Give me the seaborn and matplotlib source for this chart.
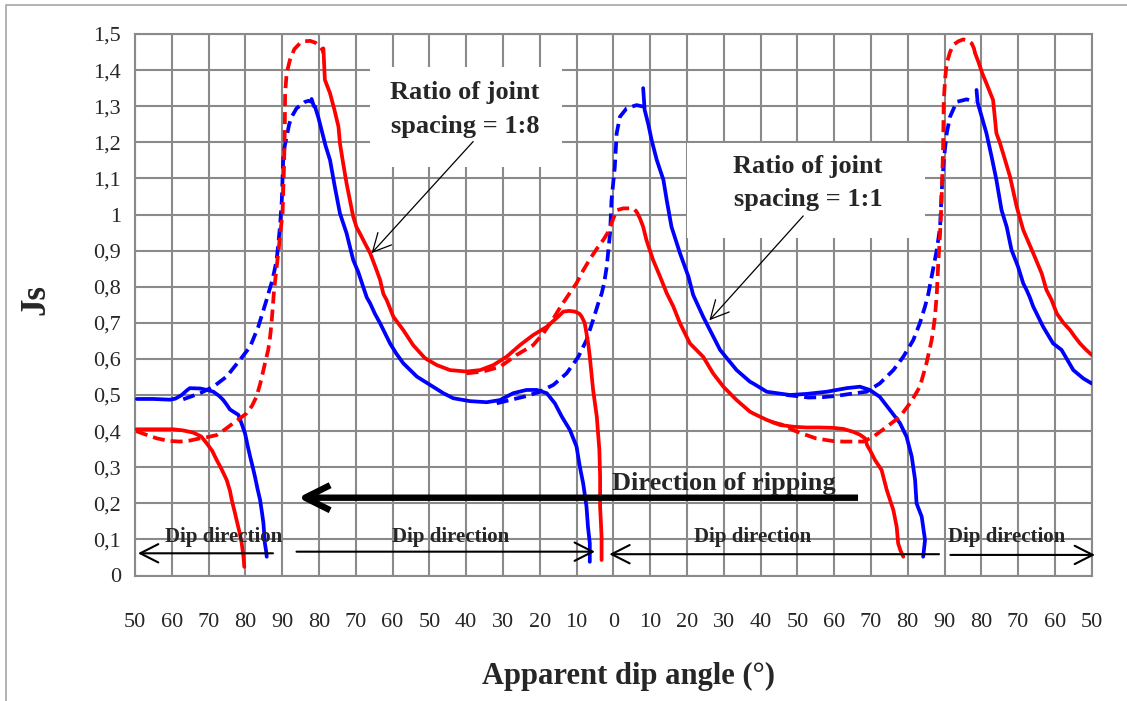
import numpy as np
import pandas as pd
import matplotlib
matplotlib.use("Agg")
import matplotlib.pyplot as plt
from matplotlib.patches import Rectangle
from matplotlib.lines import Line2D
import seaborn as sns

# ---------------------------------------------------------------------------
# Axis definition: the apparent dip angle axis is folded (50..90..0..90..50),
# so each curve is stored against its tick slot (one slot = 10 degrees).
# ---------------------------------------------------------------------------
x_tick_labels = ["50", "60", "70", "80", "90", "80", "70", "60", "50", "40",
                 "30", "20", "10", "0", "10", "20", "30", "40", "50", "60",
                 "70", "80", "90", "80", "70", "60", "50"]
y_tick_values = [0.0, 0.1, 0.2, 0.3, 0.4, 0.5, 0.6, 0.7, 0.8, 0.9,
                 1.0, 1.1, 1.2, 1.3, 1.4, 1.5]

# ---- joint spacing ratio 1:8 (red) ----------------------------------------
r18_solid_a_x = [0.03, 0.5, 1.04, 1.3, 1.58, 1.8, 1.95, 2.1, 2.22, 2.35, 2.49,
                 2.58, 2.63, 2.7, 2.76, 2.84, 2.9, 2.95, 2.97]
r18_solid_a_y = [0.405, 0.405, 0.405, 0.402, 0.396, 0.385, 0.366, 0.345, 0.32,
                 0.295, 0.265, 0.235, 0.209, 0.18, 0.154, 0.12, 0.089, 0.05, 0.024]

r18_dash_a_x = [0.03, 0.3, 0.59, 0.9, 1.22, 1.5, 1.77, 2.0, 2.22, 2.45, 2.67,
                2.85, 3.03, 3.18, 3.3, 3.4, 3.49, 3.56, 3.62, 3.67, 3.71, 3.78,
                3.84, 3.9, 3.95, 4.01, 4.03, 4.05, 4.07, 4.08, 4.12, 4.21, 4.33,
                4.48, 4.62, 4.76, 4.9, 5.03, 5.1, 5.12]
r18_dash_a_y = [0.40, 0.39, 0.38, 0.373, 0.371, 0.374, 0.38, 0.384, 0.389,
                0.405, 0.422, 0.435, 0.449, 0.47, 0.495, 0.53, 0.569, 0.6,
                0.625, 0.66, 0.699, 0.791, 0.845, 0.90, 0.95, 1.003, 1.07,
                1.132, 1.23, 1.336, 1.39, 1.428, 1.458, 1.474, 1.48, 1.481,
                1.476, 1.465, 1.455, 1.447]

r18_solid_b_x = [5.12, 5.16, 5.3, 5.42, 5.53, 5.57, 5.66, 5.75, 5.84, 5.93,
                 6.02, 6.11, 6.25, 6.39, 6.55, 6.66, 6.75, 6.84, 7.02, 7.29,
                 7.56, 7.88, 8.2, 8.56, 9.01, 9.38, 9.74, 10.1, 10.46, 10.82,
                 11.19, 11.5, 11.64, 11.8, 11.96, 12.08, 12.14, 12.22, 12.27,
                 12.32, 12.36, 12.45, 12.55, 12.62, 12.64, 12.64, 12.66, 12.68,
                 12.68]
r18_solid_b_y = [1.46, 1.373, 1.336, 1.29, 1.243, 1.197, 1.14, 1.086, 1.04,
                 0.994, 0.965, 0.948, 0.92, 0.893, 0.85, 0.819, 0.78, 0.763,
                 0.717, 0.68, 0.638, 0.602, 0.583, 0.569, 0.565, 0.569, 0.583,
                 0.606, 0.638, 0.666, 0.689, 0.717, 0.731, 0.733, 0.731, 0.725,
                 0.717, 0.7, 0.671, 0.64, 0.606, 0.514, 0.44, 0.348, 0.274,
                 0.191, 0.15, 0.107, 0.043]

r18_dash_b_x = [9.01, 9.46, 9.92, 10.37, 10.82, 11.1, 11.37, 11.6, 11.8, 12.0,
                12.18, 12.36, 12.55, 12.73, 12.85, 12.95, 13.09, 13.27, 13.54,
                13.63]
r18_dash_b_y = [0.56, 0.565, 0.578, 0.611, 0.638, 0.671, 0.712, 0.75, 0.78,
                0.81, 0.845, 0.876, 0.905, 0.93, 0.95, 0.976, 1.012, 1.017,
                1.017, 1.008]

r18_solid_c_x = [13.63, 13.72, 13.81, 13.9, 14.08, 14.27, 14.45, 14.63, 14.81,
                 15.08, 15.44, 15.71, 15.99, 16.35, 16.71, 16.8, 17.17, 17.53,
                 17.9, 18.25, 18.6, 18.97, 19.25, 19.52, 19.7, 19.84, 19.9,
                 19.97, 20.11, 20.29, 20.43, 20.61, 20.7, 20.74, 20.8, 20.88]
r18_solid_c_y = [1.008, 0.99, 0.966, 0.929, 0.874, 0.828, 0.782, 0.745, 0.699,
                 0.643, 0.606, 0.56, 0.523, 0.486, 0.454, 0.449, 0.431, 0.417,
                 0.412, 0.41, 0.41, 0.409, 0.406, 0.398, 0.39, 0.38, 0.36,
                 0.348, 0.32, 0.292, 0.237, 0.181, 0.135, 0.089, 0.07, 0.052]

r18_dash_c_x = [17.3, 17.62, 17.9, 18.25, 18.5, 18.8, 19.0, 19.25, 19.5, 19.79,
                20.06, 20.43, 20.79, 21.06, 21.2, 21.33, 21.42, 21.51, 21.58,
                21.65, 21.7, 21.74, 21.79, 21.83, 21.88, 21.92, 21.96, 21.98,
                22.02, 22.06, 22.15, 22.24, 22.38, 22.51, 22.63, 22.74, 22.8,
                22.83]
r18_dash_c_y = [0.425, 0.417, 0.402, 0.389, 0.38, 0.375, 0.372, 0.371, 0.371,
                0.371, 0.384, 0.412, 0.44, 0.477, 0.5, 0.523, 0.555, 0.588,
                0.62, 0.652, 0.685, 0.717, 0.78, 0.865, 0.948, 1.04, 1.179,
                1.317, 1.38, 1.419, 1.45, 1.47, 1.48, 1.485, 1.482, 1.474,
                1.46, 1.447]

r18_solid_d_x = [22.83, 22.92, 23.03, 23.14, 23.23, 23.32, 23.41, 23.5, 23.59,
                 23.78, 23.96, 24.14, 24.41, 24.64, 24.77, 24.91, 25.05, 25.23,
                 25.41, 25.55, 25.68, 25.85, 26.0]
r18_solid_d_y = [1.447, 1.423, 1.39, 1.363, 1.34, 1.317, 1.225, 1.2, 1.17,
                 1.105, 1.022, 0.957, 0.893, 0.837, 0.791, 0.763, 0.726, 0.7,
                 0.68, 0.66, 0.643, 0.625, 0.611]

# ---- joint spacing ratio 1:1 (blue) ----------------------------------------
r11_solid_a_x = [0.05, 0.5, 0.95, 1.1, 1.27, 1.4, 1.49, 1.77, 2.0, 2.13, 2.28,
                 2.4, 2.5, 2.58, 2.7, 2.81, 2.9, 2.99, 3.06, 3.13, 3.2, 3.26,
                 3.33, 3.4, 3.45, 3.49, 3.53, 3.56, 3.58]
r11_solid_a_y = [0.489, 0.489, 0.487, 0.49, 0.5, 0.512, 0.519, 0.518, 0.513,
                 0.509, 0.498, 0.486, 0.472, 0.46, 0.452, 0.445, 0.42, 0.394,
                 0.36, 0.329, 0.3, 0.274, 0.24, 0.209, 0.175, 0.145, 0.089,
                 0.07, 0.052]

r11_dash_a_x = [1.31, 1.5, 1.77, 2.13, 2.49, 2.85, 3.13, 3.35, 3.49, 3.58,
                3.65, 3.71, 3.78, 3.85, 3.94, 3.99, 4.03, 4.07, 4.12, 4.19,
                4.26, 4.39, 4.5, 4.62, 4.72, 4.8]
r11_dash_a_y = [0.488, 0.495, 0.505, 0.523, 0.551, 0.597, 0.634, 0.689, 0.735,
                0.765, 0.79, 0.81, 0.84, 0.874, 0.966, 1.04, 1.16, 1.19, 1.215,
                1.25, 1.271, 1.294, 1.303, 1.312, 1.315, 1.312]

r11_solid_b_x = [4.8, 4.86, 4.89, 4.98, 5.07, 5.18, 5.3, 5.43, 5.57, 5.75,
                 5.93, 6.07, 6.2, 6.3, 6.39, 6.52, 6.66, 6.93, 7.1, 7.29, 7.66,
                 8.02, 8.38, 8.65, 9.1, 9.56, 9.92, 10.28, 10.64, 10.92, 11.19,
                 11.41, 11.6, 11.82, 12.0, 12.09, 12.18, 12.27, 12.31, 12.36,
                 12.36]
r11_solid_b_y = [1.32, 1.30, 1.299, 1.27, 1.234, 1.19, 1.151, 1.077, 1.003,
                 0.948, 0.874, 0.84, 0.8, 0.77, 0.754, 0.725, 0.699, 0.643,
                 0.615, 0.588, 0.551, 0.528, 0.505, 0.491, 0.483, 0.48, 0.486,
                 0.505, 0.514, 0.514, 0.505, 0.477, 0.44, 0.403, 0.357, 0.301,
                 0.255, 0.191, 0.135, 0.089, 0.038]

r11_dash_b_x = [9.83, 10.19, 10.64, 11.0, 11.37, 11.73, 12.05, 12.27, 12.45,
                12.59, 12.68, 12.75, 12.82, 12.91, 12.95, 13.04, 13.09, 13.18,
                13.36, 13.63, 13.81]
r11_dash_b_y = [0.477, 0.486, 0.497, 0.509, 0.528, 0.56, 0.606, 0.652, 0.708,
                0.754, 0.78, 0.81, 0.855, 0.948, 1.04, 1.132, 1.225, 1.271,
                1.294, 1.303, 1.299]

r11_solid_c_x = [13.81, 13.83, 13.85, 13.95, 14.04, 14.18, 14.36, 14.45, 14.58,
                 14.81, 15.04, 15.17, 15.44, 15.9, 16.35, 16.71, 16.8, 17.17,
                 17.8, 18.25, 18.8, 19.34, 19.7, 19.97, 20.24, 20.52, 20.79,
                 20.97, 21.11, 21.2, 21.24, 21.38, 21.47, 21.42]
r11_solid_c_y = [1.35, 1.32, 1.29, 1.25, 1.206, 1.151, 1.096, 1.04, 0.966,
                 0.893, 0.828, 0.777, 0.717, 0.625, 0.569, 0.537, 0.532, 0.509,
                 0.5, 0.503, 0.509, 0.519, 0.523, 0.514, 0.495, 0.458, 0.422,
                 0.384, 0.329, 0.265, 0.2, 0.163, 0.098, 0.052]

r11_dash_c_x = [17.7, 17.98, 18.3, 18.7, 19.1, 19.43, 19.88, 20.24, 20.61,
                20.88, 21.15, 21.33, 21.47, 21.56, 21.65, 21.79, 21.88, 21.92,
                21.98, 22.06, 22.15, 22.33, 22.6, 22.83]
r11_dash_c_y = [0.50, 0.497, 0.493, 0.494, 0.498, 0.503, 0.509, 0.532, 0.569,
                0.606, 0.652, 0.699, 0.745, 0.78, 0.828, 0.902, 0.966, 1.059,
                1.151, 1.225, 1.271, 1.312, 1.319, 1.312]

r11_solid_d_x = [22.87, 22.9, 22.96, 23.14, 23.28, 23.41, 23.55, 23.69, 23.82,
                 24.0, 24.14, 24.23, 24.32, 24.41, 24.68, 24.95, 25.18, 25.5,
                 25.77, 26.0]
r11_solid_d_y = [1.345, 1.31, 1.289, 1.225, 1.16, 1.096, 1.012, 0.966, 0.902,
                 0.855, 0.809, 0.791, 0.77, 0.745, 0.689, 0.643, 0.625, 0.569,
                 0.546, 0.532]

segments = [
    ("1:1", "solid", r11_solid_a_x, r11_solid_a_y),
    ("1:1", "dashed", r11_dash_a_x, r11_dash_a_y),
    ("1:1", "solid", r11_solid_b_x, r11_solid_b_y),
    ("1:1", "dashed", r11_dash_b_x, r11_dash_b_y),
    ("1:1", "solid", r11_solid_c_x, r11_solid_c_y),
    ("1:1", "dashed", r11_dash_c_x, r11_dash_c_y),
    ("1:1", "solid", r11_solid_d_x, r11_solid_d_y),
    ("1:8", "solid", r18_solid_a_x, r18_solid_a_y),
    ("1:8", "dashed", r18_dash_a_x, r18_dash_a_y),
    ("1:8", "solid", r18_solid_b_x, r18_solid_b_y),
    ("1:8", "dashed", r18_dash_b_x, r18_dash_b_y),
    ("1:8", "solid", r18_solid_c_x, r18_solid_c_y),
    ("1:8", "dashed", r18_dash_c_x, r18_dash_c_y),
    ("1:8", "solid", r18_solid_d_x, r18_solid_d_y),
]

frames = []
for k, (ratio, kind, xs, ys) in enumerate(segments):
    frames.append(pd.DataFrame({"pos": xs, "js": ys, "ratio": ratio,
                                "kind": kind, "seg": k}))
df = pd.concat(frames, ignore_index=True)

ratio_colors = {"1:1": "#0000FF", "1:8": "#FF0000"}
kind_styles = {"solid": "-", "dashed": (0, (3.2, 1.6))}

# ---------------------------------------------------------------------------
sns.set_style("white")
plt.rcParams["font.family"] = ["Liberation Serif", "DejaVu Serif"]

fig = plt.figure(figsize=(11.27, 7.01), dpi=100)
ax = fig.add_axes([135 / 1127, 1 - 575.5 / 701, (1091.7 - 135) / 1127,
                   (575.5 - 34) / 701])

grid_color = "#8a8a8a"
for k, part in df.groupby("seg", sort=False):
    ratio = part["ratio"].iloc[0]
    kind = part["kind"].iloc[0]
    sns.lineplot(data=part, x="pos", y="js", ax=ax, sort=False,
                 estimator=None, color=ratio_colors[ratio],
                 linestyle=kind_styles[kind], linewidth=2.7,
                 solid_capstyle="round", dash_capstyle="butt", zorder=3)

ax.set_xlim(0, 26)
ax.set_ylim(0, 1.5)
ax.set_xticks(range(len(x_tick_labels)))
ax.set_xticklabels(x_tick_labels, fontsize=16)
ax.set_yticks(y_tick_values)
ax.set_yticklabels([("%g" % v).replace(".", ",") for v in y_tick_values],
                   fontsize=16)
ax.tick_params(axis="x", direction="out", length=6, width=1.5,
               color=grid_color, pad=21)
ax.tick_params(axis="y", direction="out", length=5, width=1.5,
               color=grid_color, pad=5)
ax.grid(True, color=grid_color, linewidth=1.5)
ax.set_axisbelow(True)
for side in ax.spines.values():
    side.set_color(grid_color)
    side.set_linewidth(1.5)

ax.set_xlabel("Apparent dip angle (°)", fontsize=22, fontweight="bold")
ax.xaxis.set_label_coords(13.42 / 26, -0.16)
ax.set_ylabel("Js", fontsize=25, fontweight="bold")
ax.yaxis.set_label_coords(-0.086, 0.509)

# ---- annotation boxes ------------------------------------------------------
ax.add_patch(Rectangle((6.39, 1.132), 11.6 - 6.39, 1.409 - 1.132,
                       facecolor="white", edgecolor="none", zorder=1))
ax.add_patch(Rectangle((14.99, 0.934), 21.47 - 14.99, 1.197 - 0.934,
                       facecolor="white", edgecolor="none", zorder=1))

ax.text(8.97, 1.291, "Ratio of joint\nspacing = 1:8", ha="center",
        va="center", fontsize=19, fontweight="bold", linespacing=1.6,
        zorder=5)
ax.text(18.29, 1.087, "Ratio of joint\nspacing = 1:1", ha="center",
        va="center", fontsize=19, fontweight="bold", linespacing=1.6,
        zorder=5)

thin_head = "->,head_length=0.65,head_width=0.33"
ax.annotate("", xy=(6.43, 0.893), xytext=(9.19, 1.202),
            arrowprops=dict(arrowstyle=thin_head, lw=0.9, color="black",
                            mutation_scale=20, shrinkA=0, shrinkB=0),
            zorder=5)
ax.annotate("", xy=(15.61, 0.707), xytext=(18.16, 0.996),
            arrowprops=dict(arrowstyle=thin_head, lw=0.9, color="black",
                            mutation_scale=20, shrinkA=0, shrinkB=0),
            zorder=5)

# ---- ripping direction -------------------------------------------------------
ax.annotate("", xy=(4.43, 0.2155), xytext=(19.65, 0.2155),
            arrowprops=dict(arrowstyle="->,head_length=0.9,head_width=0.45",
                            lw=4.6, color="black", mutation_scale=20,
                            shrinkA=0, shrinkB=0, capstyle="butt"),
            zorder=6)
ax.text(12.96, 0.237, "Direction of ripping", ha="left", va="baseline",
        fontsize=19, fontweight="bold", zorder=6)

# ---- dip direction arrows ----------------------------------------------------
dip_arrows = [((3.75, 0.0615), (0.08, 0.0615)),
              ((4.39, 0.066), (12.5, 0.066)),
              ((21.85, 0.059), (12.89, 0.059)),
              ((22.16, 0.057), (26.09, 0.057))]
for start, tip in dip_arrows:
    ax.annotate("", xy=tip, xytext=start,
                arrowprops=dict(arrowstyle=thin_head, lw=1.5, color="black",
                                mutation_scale=20, shrinkA=0, shrinkB=0),
                annotation_clip=False, zorder=6)
for cx in [2.42, 8.57, 16.79, 23.68]:
    ax.text(cx, 0.092, "Dip direction", ha="center", va="baseline",
            fontsize=15, fontweight="bold", zorder=6)

# ---- outer frame -------------------------------------------------------------
frame_color = "#a6a6a6"
fig.add_artist(Line2D([6 / 1127, 6 / 1127, 1.0], [0.0, 1 - 5 / 701, 1 - 5 / 701],
                      color=frame_color, linewidth=1.2,
                      transform=fig.transFigure))

fig.savefig("out.png", dpi=100, facecolor="white")
